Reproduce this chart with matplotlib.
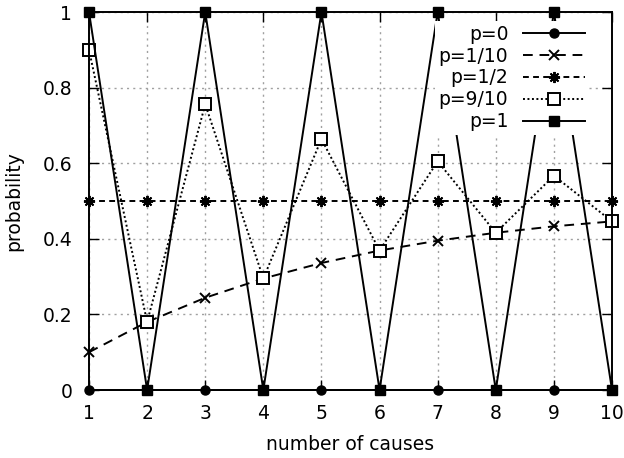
import matplotlib
matplotlib.use("Agg")
import matplotlib.pyplot as plt

plt.rcParams['font.family'] = ['DejaVu Sans']

# number of causes
n = [1, 2, 3, 4, 5, 6, 7, 8, 9, 10]

# probability, one list per p
p0 = [0, 0, 0, 0, 0, 0, 0, 0, 0, 0]
p1_10 = [0.1, 0.18, 0.244, 0.295, 0.336, 0.369, 0.395, 0.416, 0.433, 0.446]
p1_2 = [0.5, 0.5, 0.5, 0.5, 0.5, 0.5, 0.5, 0.5, 0.5, 0.5]
p9_10 = [0.9, 0.18, 0.756, 0.295, 0.664, 0.369, 0.605, 0.416, 0.567, 0.446]
p1 = [1, 0, 1, 0, 1, 0, 1, 0, 1, 0]

yticks = [0, 0.2, 0.4, 0.6, 0.8, 1]
ylabels = ["0", "0.2", "0.4", "0.6", "0.8", "1"]

fs = 13.5
fig = plt.figure(figsize=(6.24, 4.58), dpi=100)
ax = fig.add_axes([89/624, 1-390/458, (612-89)/624, (390-12)/458])

lw = 1.4
ax.plot(n, p0, '-', color='black', lw=lw, marker='o', ms=6.5, label='p=0', clip_on=False)
ax.plot(n, p1_10, color='black', lw=lw, dashes=(5, 3.5), marker='x', ms=7, mew=1.4,
        label='p=1/10', clip_on=False)
ax.plot(n, p1_2, color='black', lw=lw, dashes=(3, 2.2), marker=(8, 2, 0), ms=8, mew=1.4,
        label='p=1/2', clip_on=False)
ax.plot(n, p9_10, color='black', lw=lw, dashes=(1, 1.3), marker='s', ms=8, mfc='white',
        mew=1.4, label='p=9/10', clip_on=False)
ax.plot(n, p1, '-', color='black', lw=lw, marker='s', ms=7, label='p=1', clip_on=False)

ax.set_xlim(1, 10)
ax.set_ylim(0, 1)
ax.set_xticks(n)
ax.set_yticks(yticks)
ax.set_yticklabels(ylabels)
ax.tick_params(direction='in', length=7, width=1, top=True, right=True,
               labelsize=fs, colors='black')
ax.tick_params(axis='x', pad=10)
ax.tick_params(axis='y', pad=12)
ax.grid(True, color='#a0a0a0', linestyle=(0, (1.5, 3)), lw=1)
for s in ax.spines.values():
    s.set_linewidth(1.4)

ax.set_xlabel('number of causes', fontsize=fs, labelpad=9)
ax.set_ylabel('probability', fontsize=fs, labelpad=14)

leg = ax.legend(loc='upper right', bbox_to_anchor=(0.956, 0.976), markerfirst=False,
                frameon=True, fontsize=fs, handlelength=3.3, handletextpad=0.8,
                labelspacing=0.15, borderaxespad=0, borderpad=0.2, fancybox=False)
leg.get_frame().set_edgecolor('none')
leg.get_frame().set_facecolor('white')
leg.get_frame().set_alpha(1)
leg.set_zorder(5)

fig.savefig('out.png', dpi=100)
